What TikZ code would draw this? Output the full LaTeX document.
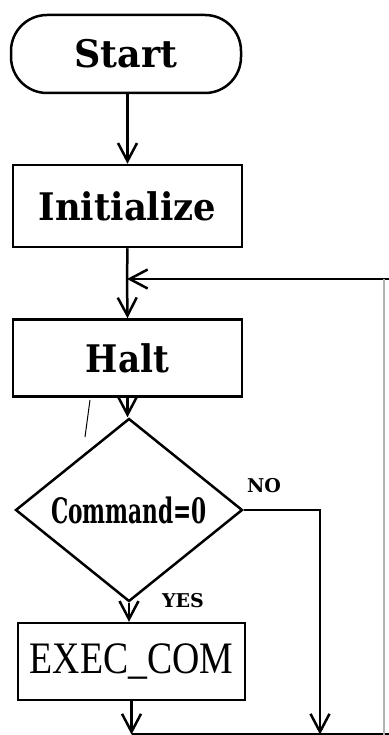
\documentclass[tikz,border=0pt]{standalone}
\usepackage{fontspec}
\setmainfont{DejaVu Serif}
\newfontfamily\execfont{Liberation Serif}
\usetikzlibrary{arrows.meta,shapes.geometric}
\begin{document}
\begin{tikzpicture}[x=1pt,y=-1pt,line width=2.5pt,
  box/.style={draw,minimum width=229pt,minimum height=80pt,inner sep=0pt},
  big/.style={font=\bfseries\fontsize{38}{44}\selectfont},
  small/.style={font=\bfseries\fontsize{19}{22}\selectfont,inner sep=0pt},
  arr/.style={-{Straight Barb[length=18pt,width=19pt,line width=2.5pt]}}]
\useasboundingbox (0,0) rectangle (388,735);
\node[draw,rounded corners=36pt,minimum width=230pt,minimum height=78pt,inner sep=0pt,big] (start) at (126,54) {\scalebox{0.96}[1]{Start}};
\node[box,minimum height=82pt,big] (init) at (127.5,206) {\scalebox{0.93}[1]{Initialize}};
\node[box,minimum height=77pt,big] (halt) at (127.5,358) {\scalebox{0.9}[1]{Halt}};
\node[diamond,draw,minimum width=227pt,minimum height=150pt,inner sep=0pt,
      font=\bfseries\fontsize{35}{40}\selectfont] (cmd) at (129,510) {\scalebox{0.62}[1]{Command=0}};
\node[box,minimum width=227pt,minimum height=77pt,font=\execfont\fontsize{45}{50}\selectfont] (exec) at (131.5,661.5) {\scalebox{0.84}[1]{EXEC\_COM}};
\node[small] (no) at (264,486) {NO};
\node[small] (yes) at (183,601) {YES};
\coordinate (j) at (127,279);
\coordinate (rt) at (390,279);
\coordinate (rtr) at (384,279);
\coordinate (rb) at (384,734.5);
\coordinate (edge) at (390,734.5);
\coordinate (nobot) at (320,734.5);
\coordinate (ebot) at (131.5,734.5);
\draw[arr] (start.south -| init.north) -- (init.north);
\draw (init.south) -- (j);
\draw[arr] (j) -- (halt.north);
\draw[arr] (rt) -- (j);
\draw[arr] (halt.south) -- (halt.south |- cmd.north);
\draw[arr] (cmd.south) -- (cmd.south |- exec.north);
\draw[arr] (cmd.east) -| (nobot);
\draw[arr] (exec.south) -- (ebot);
\draw (ebot) -- (edge);
\draw[gray!60,line width=1.2pt] (rb) -- (rtr);
\draw[line width=1pt] (90,400) -- (85,437);
\end{tikzpicture}
\end{document}
